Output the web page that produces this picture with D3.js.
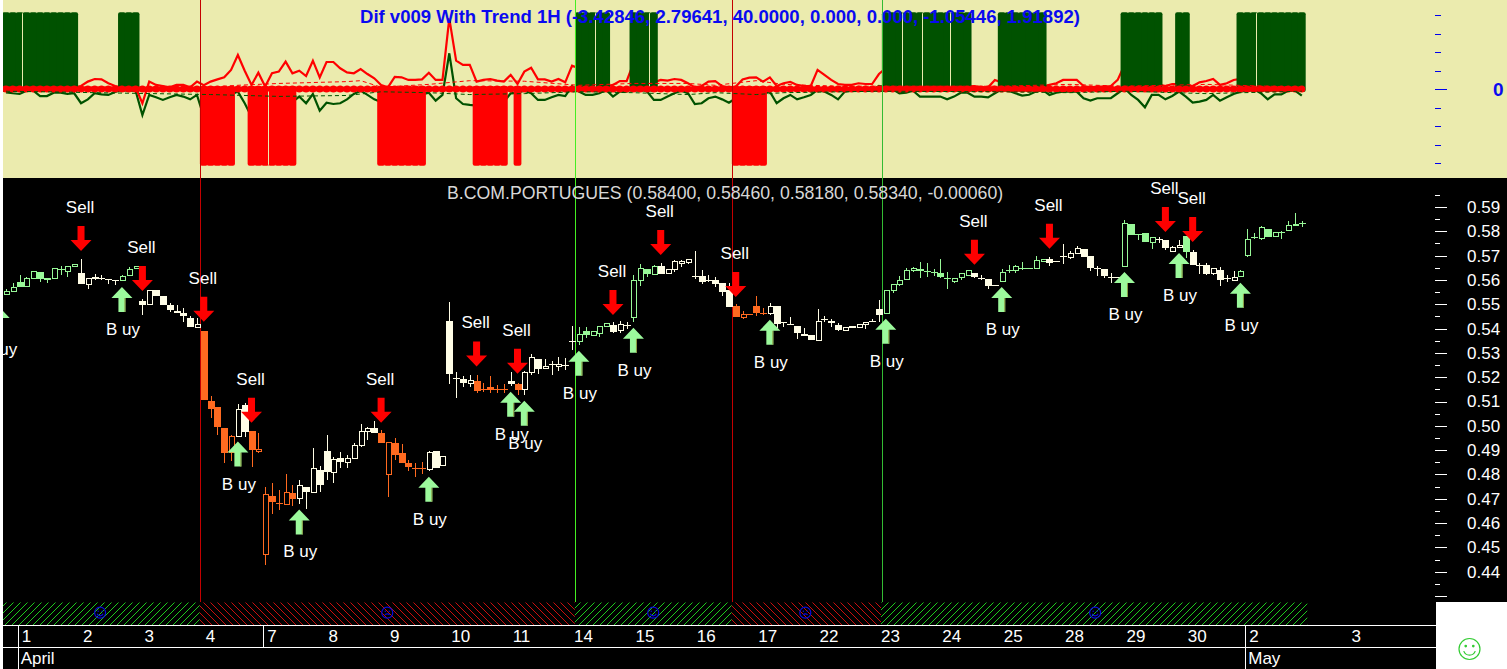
<!DOCTYPE html>
<html><head><meta charset="utf-8">
<style>html,body{margin:0;padding:0;background:#fff;overflow:hidden}svg{display:block}text{font-family:"Liberation Sans",Arial,sans-serif}</style>
<script src="https://cdn.jsdelivr.net/npm/d3@7"></script>
</head><body><svg id="c" width="1507" height="669"></svg>
<script>
const opens=[.5543,.5554,.5592,.5573,.5606,.5632,.5610,.5606,.5645,.5634,
.5656,.5628,.5583,.5611,.5606,.5603,.5599,.5597,.5621,.5648,
.5514,.5500,.5558,.5533,.5498,.5473,.5463,.5443,.5408,.5391,
.5102,.5079,.4992,.4894,.4960,.5087,.4980,.4897,.4474,.4713,
.4683,.4677,.4725,.4702,.4750,.4727,.4820,.4897,.4809,.4869,
.4852,.4868,.4920,.4980,.4992,.4972,.4802,.4930,.4890,.4845,
.4827,.4827,.4823,.4897,.4839,.5432,.5198,.5192,.5174,.5184,
.5151,.5160,.5153,.5150,.5183,.5173,.5150,.5220,.5275,.5238,
.5256,.5246,.5252,.5350,.5351,.5388,.5377,.5383,.5410,.5414,
.5394,.5415,.5447,.5599,.5644,.5622,.5659,.5628,.5645,.5670,
.5677,.5615,.5615,.5599,.5600,.5587,.5559,.5491,.5447,.5461,
.5493,.5466,.5463,.5493,.5425,.5420,.5410,.5377,.5374,.5353,
.5439,.5431,.5415,.5395,.5411,.5406,.5418,.5432,.5481,.5462,
.5560,.5581,.5604,.5638,.5645,.5638,.5633,.5628,.5606,.5596,
.5610,.5622,.5628,.5610,.5603,.5578,.5597,.5641,.5638,.5650,
.5650,.5648,.5681,.5685,.5678,.5698,.5693,.5710,.5726,.5699,
.5648,.5644,.5614,.5614,.5656,.5829,.5789,.5792,.5757,.5767,
.5763,.5721,.5733,.5781,.5715,.5662,.5661,.5626,.5641,.5606,
.5599,.5614,.5706,.5776,.5770,.5808,.5782,.5797,.5803,.5825,.5833];
const highs=[.5562,.5587,.5621,.5614,.5636,.5632,.5610,.5648,.5658,.5656,
.5665,.5685,.5606,.5625,.5621,.5603,.5599,.5621,.5652,.5656,
.5522,.5558,.5558,.5533,.5507,.5496,.5484,.5452,.5443,.5391,
.5121,.5079,.4992,.4964,.5091,.5094,.4980,.4972,.4750,.4765,
.4738,.4802,.4755,.4776,.4750,.4909,.4833,.4964,.4872,.4894,
.4879,.4930,.5009,.4995,.5021,.4981,.4934,.4951,.4927,.4860,
.4849,.4853,.4897,.4897,.4877,.5510,.5221,.5203,.5209,.5210,
.5176,.5206,.5169,.5172,.5221,.5178,.5226,.5296,.5275,.5275,
.5265,.5285,.5279,.5411,.5408,.5408,.5392,.5410,.5422,.5429,
.5431,.5428,.5621,.5665,.5644,.5662,.5669,.5645,.5682,.5682,
.5688,.5719,.5641,.5621,.5611,.5587,.5588,.5502,.5474,.5461,
.5532,.5485,.5505,.5493,.5425,.5447,.5410,.5402,.5374,.5481,
.5451,.5439,.5422,.5407,.5411,.5418,.5426,.5441,.5518,.5558,
.5583,.5617,.5648,.5655,.5674,.5671,.5644,.5685,.5633,.5607,
.5630,.5641,.5628,.5621,.5603,.5578,.5644,.5662,.5662,.5674,
.5650,.5699,.5688,.5696,.5678,.5747,.5719,.5740,.5726,.5699,
.5658,.5644,.5628,.5614,.5847,.5829,.5789,.5792,.5776,.5778,
.5763,.5740,.5764,.5781,.5723,.5671,.5669,.5648,.5652,.5620,
.5638,.5641,.5808,.5792,.5823,.5808,.5799,.5803,.5844,.5874,.5844];
const lows=[.5537,.5551,.5570,.5570,.5606,.5593,.5589,.5606,.5621,.5614,
.5656,.5585,.5564,.5600,.5600,.5584,.5581,.5597,.5621,.5648,
.5456,.5500,.5532,.5496,.5469,.5468,.5429,.5411,.5408,.5105,
.5033,.4964,.4849,.4857,.4960,.4955,.4832,.4890,.4427,.4639,
.4652,.4676,.4672,.4680,.4656,.4727,.4727,.4779,.4764,.4828,
.4825,.4868,.4913,.4943,.4977,.4936,.4706,.4860,.4854,.4815,
.4788,.4803,.4816,.4833,.4839,.5172,.5114,.5158,.5160,.5135,
.5141,.5137,.5135,.5137,.5162,.5128,.5128,.5210,.5214,.5238,
.5207,.5224,.5231,.5310,.5333,.5361,.5377,.5365,.5410,.5381,
.5380,.5400,.5429,.5576,.5611,.5622,.5632,.5628,.5632,.5655,
.5666,.5603,.5584,.5592,.5570,.5534,.5495,.5450,.5441,.5461,
.5452,.5456,.5456,.5404,.5408,.5414,.5359,.5371,.5359,.5353,
.5428,.5407,.5390,.5395,.5406,.5406,.5400,.5432,.5429,.5462,
.5548,.5576,.5604,.5634,.5610,.5611,.5617,.5607,.5564,.5589,
.5600,.5622,.5607,.5600,.5562,.5578,.5597,.5630,.5630,.5641,
.5650,.5648,.5681,.5658,.5678,.5667,.5685,.5710,.5699,.5638,
.5617,.5606,.5589,.5614,.5656,.5788,.5764,.5760,.5728,.5753,
.5723,.5716,.5733,.5689,.5661,.5625,.5622,.5620,.5576,.5593,
.5599,.5614,.5696,.5767,.5764,.5778,.5782,.5770,.5803,.5825,.5819];
const closes=[.5556,.5570,.5577,.5607,.5636,.5606,.5606,.5648,.5645,.5656,
.5665,.5585,.5606,.5606,.5606,.5603,.5599,.5615,.5647,.5656,
.5503,.5558,.5537,.5502,.5481,.5468,.5455,.5411,.5420,.5111,
.5075,.5001,.4894,.4960,.5069,.4980,.4906,.4905,.4720,.4691,
.4683,.4728,.4705,.4757,.4734,.4827,.4764,.4813,.4864,.4856,
.4868,.4921,.4979,.4991,.4977,.4936,.4934,.4886,.4854,.4833,
.4827,.4827,.4891,.4833,.4877,.5220,.5198,.5178,.5187,.5146,
.5151,.5153,.5153,.5150,.5173,.5153,.5221,.5281,.5240,.5247,
.5256,.5256,.5252,.5350,.5378,.5377,.5392,.5410,.5422,.5388,
.5417,.5415,.5599,.5648,.5626,.5656,.5632,.5645,.5677,.5677,
.5688,.5615,.5596,.5599,.5587,.5556,.5495,.5450,.5459,.5461,
.5470,.5466,.5491,.5425,.5425,.5420,.5387,.5371,.5359,.5433,
.5439,.5425,.5400,.5407,.5406,.5418,.5426,.5432,.5461,.5558,
.5583,.5599,.5641,.5648,.5640,.5638,.5633,.5617,.5606,.5607,
.5628,.5641,.5617,.5610,.5577,.5578,.5633,.5641,.5656,.5650,
.5650,.5681,.5688,.5673,.5678,.5698,.5710,.5730,.5699,.5655,
.5648,.5618,.5614,.5614,.5833,.5788,.5789,.5760,.5776,.5767,
.5733,.5736,.5743,.5721,.5667,.5662,.5630,.5648,.5606,.5606,
.5611,.5636,.5770,.5776,.5817,.5778,.5799,.5797,.5825,.5831,.5833];
const toneStarts=[0,11,17,20,29,34,36,43,55,62,69,74,75,76,84,89,92,96,107,112,129,142,146,153,164,169,173,174,181];
const toneNames=["g","w","g","w","o","w","o","w","o","w","o","w","o","w","g","w","g","w","o","w","g","w","g","w","g","w","g","w","g"];
const redLine=[.09,.13,.09,.05,.09,.09,.07,.09,.13,.09,.09,.16,.40,.54,.52,.31,.16,.09,.09,.09,
-.77,.40,.22,.16,.09,.22,.22,.09,.40,.20,.40,.52,.63,1.03,1.84,.99,.22,.88,.13,.85,
.94,1.48,.85,.99,.70,1.53,.63,1.46,1.46,1.12,.90,.85,1.08,.81,.58,.22,.09,.65,.63,.49,
.49,.52,.88,.49,.49,3.82,1.53,1.30,1.30,.40,.49,.54,.45,.40,.76,.27,.94,1.15,.52,.52,
.40,.54,.36,1.26,1.12,.27,.22,.16,.13,.22,.43,.43,1.39,.45,.40,.36,.49,.45,.54,.49,
.31,.09,.16,.40,.43,.16,.09,.13,.52,.61,.63,.40,.63,.16,.31,.38,.22,.16,.16,1.03,
.76,.49,.27,.22,.22,.31,.27,.27,.81,1.12,.30,.76,.20,.15,.25,.30,.25,.20,.15,.25,
.30,.15,.16,.09,.09,.49,.35,.20,.18,.20,.15,.15,.10,.22,.31,.49,.49,.49,.16,.09,
.13,.13,.16,.49,1.30,.25,.20,.15,.20,.25,.16,.27,.27,.22,.16,.36,.43,.54,.22,.31,
.49,.55,.60,.76,.31,.13,.16,.16,.13,.13,.09];
const greenLine=[-.18,-.23,-.27,-.09,-.09,-.38,-.38,-.20,-.20,-.27,-.23,-.77,-.56,-.23,-.29,-.32,-.16,-.05,-.05,-.09,
-1.41,-.32,-.45,-.59,-.45,-.32,-.41,-.56,-.32,-1.50,-.9,-.8,-.6,-.3,-.14,-.77,-1.50,-1.2,-2.58,-1.0,
-.9,-.5,-.7,-.41,-.77,-.27,-1.17,-.74,-.81,-.77,-.56,-.27,-.09,-.32,-.56,-.7,-.5,-.4,-.4,-.4,
-.4,-.3,-.20,-.63,-.32,1.93,-.50,-.81,-.86,-.9,-.85,-.85,-.8,-.7,-.23,-.2,-.09,-.23,-.59,-.59,
-.45,-.32,-.38,.16,-.14,-.32,-.32,-.23,-.05,-.41,-.14,-.14,.09,.16,-.14,-.59,-.59,-.41,-.23,-.09,
-.23,-.81,-.77,-.50,-.41,-.56,-.74,-.5,-.4,-.4,-.4,-.3,-.14,-.77,-.50,-.32,-.56,-.45,-.32,-.05,
-.14,-.32,-.56,-.14,-.09,-.09,-.09,-.09,.16,.09,-.02,-.23,-.20,-.09,-.41,-.41,-.41,-.41,-.56,-.41,
-.20,-.20,-.41,-.41,-.45,-.23,-.02,-.09,-.23,-.36,-.31,-.14,-.05,-.32,-.20,-.14,-.14,-.14,-.50,-.63,
-.50,-.50,-.50,-.23,.04,-.32,-.59,-.99,-.32,-.32,-.56,-.38,-.14,-.41,-.74,-.68,-.59,-.32,-.63,-.45,
-.27,-.14,-.09,-.02,-.23,-.56,-.29,-.29,-.09,-.09,-.36];
const redDashBars=[0,30,34,40,50,52,55,62,68,76,84,92,100,104,110,114,122,128,146,156,164,176,190];
const redDashVals=[.1,.1,.2,.3,.4,.45,.1,.25,.45,.42,.2,.3,.3,.2,.45,.25,.15,.15,.15,.25,.15,.25,.1];
const greenDashBars=[0,30,40,50,55,62,68,76,84,92,100,104,110,114,128,146,156,164,176,190];
const greenDashVals=[-.12,-.3,-.4,-.35,-.15,-.2,-.3,-.25,-.15,-.2,-.3,-.2,-.3,-.2,-.12,-.15,-.2,-.12,-.25,-.12];
const signalFrom=[0,17,29,36,55,69,75,84,92,107,129,146,164,172,181];
const signalTo=[10,19,33,42,61,73,75,88,95,111,141,152,169,173,190];
const signalDir=[1,1,-1,-1,-1,-1,-1,1,1,-1,1,1,1,1,1];
const slitBars=[2,38,86,94,131,134,138,183];
const regimeBars=[29,84,107,129];
const regimeColors=["#c40000","#44ee22","#c40000","#33bb33"];
const hatchFrom=[-.44,28.4,83.4,106.4,128.3];
const hatchTo=[28.4,83.4,106.4,128.3,190.8];
const hatchTone=["up","down","up","down","up"];
const faceBars=[13.8,55.9,94.9,117.2,159.7];
const faceMood=[1,-1,1,-1,1];
const sellBars=[11,20,29,36,55,69,75,89,96,107,142,153,170,174];
const sellTips=[.5719,.5555,.5428,.5013,.5013,.5244,.5214,.5456,.5703,.5530,.5662,.5728,.5797,.5756];
const buyBars=[-1,17,34,43,62,74,76,84,92,112,129,146,164,172,181];
const buyTips=[.5489,.5571,.4935,.4656,.4791,.5140,.5103,.5309,.5403,.5436,.5440,.5571,.5633,.5711,.5588];
const priceTicks=[.59,.58,.57,.56,.55,.54,.53,.52,.51,.50,.49,.48,.47,.46,.45,.44,.43];
const priceLabelled=[.59,.58,.57,.56,.55,.54,.53,.52,.51,.50,.49,.48,.47,.46,.45,.44];
const priceMinor=[.595,.585,.575,.565,.555,.545,.535,.525,.515,.505,.495,.485,.475,.465,.455,.445,.435];
const indMinor=[4,3,2,1,-1,-2,-3,-4];
const dayLabels=["1","2","3","4","7","8","9","10","11","14","15","16","17","22","23","24","25","28","29","30","2","3"];
const dayBars=[2,11,20,29,38,47,56,65,74,83,92,101,110,119,128,137,146,155,164,173,182,197];
const monthLabels=["April","May"];
const monthBars=[2,182];
const weekBar=38;
const indicatorTitle="Dif v009 With Trend 1H (-3.42846, 2.79641, 40.0000, 0.000, 0.000, -1.05446, 1.91892)";
const priceTitle="B.COM.PORTUGUES (0.58400, 0.58460, 0.58180, 0.58340, -0.00060)";

const svg=d3.select("#c");
const W=1507,H=669,L=3,R=1436;
const x=d3.scaleLinear().domain([0,190]).range([6,1301.8]);
const yP=d3.scaleLinear().domain([.59,.43]).range([207,596]);
const yT=d3.scaleLinear().domain([4,-4]).range([15,163]);
const bars=d3.range(opens.length);
const toneAt=i=>toneNames[d3.bisectRight(toneStarts,i)-1];
const toneColor={g:"#98f898",w:"#fffde6",o:"#ff6a20"};
const signalAt=i=>{for(let k=0;k<signalFrom.length;k++)if(i>=signalFrom[k]&&i<=signalTo[k])return signalDir[k];return 0;};

const defs=svg.append("defs");
const pat=(id,d,c)=>{const p=defs.append("pattern").attr("id",id).attr("patternUnits","userSpaceOnUse").attr("width",7).attr("height",7);
 p.append("path").attr("d",d).attr("stroke",c).attr("stroke-width",.85).attr("fill","none");};
pat("hup","M0,7L7,0","#22ee22");pat("hdn","M0,0L7,7","#ee1111");
defs.append("clipPath").attr("id","pl").append("rect").attr("x",L).attr("y",0).attr("width",W-L).attr("height",H);

// panels
svg.append("rect").attr("width",W).attr("height",H).attr("fill","#fff");
svg.append("rect").attr("x",L).attr("y",0).attr("width",W-L).attr("height",178).attr("fill","#ebebae");
svg.append("rect").attr("x",L).attr("y",178).attr("width",W-L).attr("height",424).attr("fill","#000");
svg.append("rect").attr("x",L).attr("y",602).attr("width",R-L).attr("height",67).attr("fill","#000");

const root=svg.append("g").attr("clip-path","url(#pl)");

// indicator lines
const lineT=d3.line().x((d,i)=>x(i)).y(d=>yT(d));
root.append("path").attr("d",lineT(greenLine)).attr("fill","none").attr("stroke","#005200").attr("stroke-width",2.2);
root.append("path").attr("d",lineT(redLine)).attr("fill","none").attr("stroke","#ff0000").attr("stroke-width",2.2);

// histogram
root.append("g").selectAll("rect").data(bars.filter(i=>signalAt(i)!==0)).join("rect")
 .attr("x",i=>x(i)-3.9).attr("width",7.8)
 .attr("y",i=>signalAt(i)>0?yT(4.15):yT(0)-3)
 .attr("height",i=>Math.abs(yT(4.15)-yT(0))+3)
 .attr("rx",2)
 .attr("fill",i=>signalAt(i)>0?"#005200":"#ff0000");
root.append("g").selectAll("rect").data(slitBars).join("rect")
 .attr("x",i=>Math.round(x(i)+2.4)).attr("width",1)
 .attr("y",i=>signalAt(i)>0?yT(4.15)+1:yT(0))
 .attr("height",Math.abs(yT(4.15)-yT(0))-1)
 .attr("fill","#ebebae");

// zero band
root.append("line").attr("x1",L).attr("x2",x(190)).attr("y1",yT(0)).attr("y2",yT(0)).attr("stroke","#ff0000").attr("stroke-width",5);
root.append("g").selectAll("circle").data(bars).join("circle")
 .attr("cx",i=>x(i)).attr("cy",yT(0)).attr("r",3.5).attr("fill","#ff0000");
const dl=d3.line().x(d=>x(d[0])).y(d=>yT(d[1]));
root.append("path").attr("d",dl(redDashBars.map((b,k)=>[b,redDashVals[k]]))).attr("fill","none").attr("stroke","#ff0000").attr("stroke-width",1).attr("stroke-dasharray","4 3");
root.append("path").attr("d",dl(greenDashBars.map((b,k)=>[b,greenDashVals[k]]))).attr("fill","none").attr("stroke","#005200").attr("stroke-width",1).attr("stroke-dasharray","4 3");

// regime verticals
root.append("g").selectAll("line").data(regimeBars).join("line")
 .attr("x1",b=>Math.round(x(b)-4.1)+.5).attr("x2",b=>Math.round(x(b)-4.1)+.5)
 .attr("y1",0).attr("y2",602).attr("stroke",(b,k)=>regimeColors[k]).attr("stroke-width",1);

svg.append("text").attr("x",360).attr("y",23).attr("font-size",18.55).attr("font-weight","bold").attr("fill","#0a0af0").text(indicatorTitle);

// candles
const cg=root.append("g");
const candle=cg.selectAll("g").data(bars).join("g").attr("shape-rendering","crispEdges");
candle.append("line").attr("x1",i=>Math.round(x(i))+.5).attr("x2",i=>Math.round(x(i))+.5)
 .attr("y1",i=>yP(highs[i])).attr("y2",i=>yP(lows[i])).attr("stroke",i=>toneColor[toneAt(i)]).attr("stroke-width",1);
candle.filter(i=>closes[i]>opens[i]).append("rect")
 .attr("x",i=>Math.round(x(i))-2).attr("width",5)
 .attr("y",i=>Math.round(yP(closes[i]))+.5)
 .attr("height",i=>Math.max(Math.round(yP(opens[i])-yP(closes[i])),1))
 .attr("fill","#000").attr("stroke",i=>toneColor[toneAt(i)]).attr("stroke-width",1);
candle.filter(i=>closes[i]<=opens[i]).append("rect")
 .attr("x",i=>Math.round(x(i))-3).attr("width",7)
 .attr("y",i=>Math.round(yP(opens[i])))
 .attr("height",i=>Math.max(Math.round(yP(closes[i])-yP(opens[i])),1)+(closes[i]<opens[i]?1:0))
 .attr("fill",i=>toneColor[toneAt(i)]);

// arrows
const arrow=dir=>{const p=d3.path();const s=dir; // s=+1 tip at origin, body upward (sell); s=-1 body downward (buy)
 p.moveTo(0,0);p.lineTo(10.5,-11*s);p.lineTo(3.5,-11*s);p.lineTo(3.5,-25*s);p.lineTo(-3.5,-25*s);p.lineTo(-3.5,-11*s);p.lineTo(-10.5,-11*s);p.closePath();return p.toString();};
const sells=sellBars.map((b,k)=>({b,t:sellTips[k]}));
const buys=buyBars.map((b,k)=>({b,t:buyTips[k]}));
const sg=root.append("g").selectAll("g").data(sells).join("g").attr("transform",d=>`translate(${x(d.b)},${yP(d.t)})`);
sg.append("path").attr("d",arrow(1)).attr("fill","#ff0000");
sg.append("text").attr("y",-38).attr("x",-1).attr("text-anchor","middle").attr("font-size",17).attr("fill","#fff").text("Sell");
const bg=root.append("g").selectAll("g").data(buys).join("g").attr("transform",d=>`translate(${x(d.b)},${yP(d.t)})`);
bg.append("path").attr("d",arrow(-1)).attr("fill","#9cf99c");
bg.append("rect").attr("x",2.5).attr("y",11).attr("width",1).attr("height",14).attr("fill","#8a9a40");
bg.append("text").attr("y",48).attr("x",1).attr("text-anchor","middle").attr("font-size",17).attr("fill","#fff").text("B uy");

svg.append("text").attr("x",447).attr("y",199).attr("font-size",17.7).attr("fill","#d8d8d8").text(priceTitle);

// price axes
const pA=svg.append("g").attr("transform","translate(1435,0)")
 .call(d3.axisRight(yP).tickValues(priceTicks).tickSize(12).tickPadding(20).tickFormat(v=>priceLabelled.includes(v)?d3.format(".2f")(v):""));
pA.select(".domain").remove();
pA.selectAll("line").attr("stroke","#fff").attr("stroke-width",1).attr("shape-rendering","crispEdges");
pA.selectAll("text").attr("fill","#fff").attr("font-size",17).attr("font-family","Liberation Sans");
const pM=svg.append("g").attr("transform","translate(1435,0)")
 .call(d3.axisRight(yP).tickValues(priceMinor).tickSize(5).tickFormat(""));
pM.select(".domain").remove();
pM.selectAll("line").attr("stroke","#fff").attr("shape-rendering","crispEdges");

// indicator axes
const iA=svg.append("g").attr("transform","translate(1435,0)")
 .call(d3.axisRight(yT).tickValues([0]).tickSize(12).tickPadding(46).tickFormat(d3.format("d")));
iA.select(".domain").remove();
iA.selectAll("line").attr("stroke","#0000ee").attr("stroke-width",1).attr("shape-rendering","crispEdges");
iA.selectAll("text").attr("fill","#0a0af0").attr("font-size",19).attr("font-weight","bold").attr("font-family","Liberation Sans");
const iM=svg.append("g").attr("transform","translate(1435,0)")
 .call(d3.axisRight(yT).tickValues(indMinor).tickSize(6).tickFormat(""));
iM.select(".domain").remove();
iM.selectAll("line").attr("stroke","#0000ee").attr("stroke-width",1).attr("shape-rendering","crispEdges");

// hatch band
svg.append("g").selectAll("rect").data(d3.range(hatchFrom.length)).join("rect")
 .attr("x",k=>x(hatchFrom[k])).attr("width",k=>x(hatchTo[k])-x(hatchFrom[k]))
 .attr("y",602.5).attr("height",22.5)
 .attr("fill",k=>hatchTone[k]==="up"?"url(#hup)":"url(#hdn)");
// faces
const face=(g,mood,c,r)=>{
 g.append("circle").attr("r",r).attr("fill","none").attr("stroke",c).attr("stroke-width",1.2);
 [-1,1].forEach(s=>g.append("circle").attr("cx",s*r*.36).attr("cy",-r*.28).attr("r",r*.13).attr("fill",c));
 const m=mood>0?1:-1;
 g.append("path").attr("d",m>0
  ?d3.arc()({innerRadius:r*.58,outerRadius:r*.58,startAngle:Math.PI/2+.35,endAngle:Math.PI*1.5-.35})
  :d3.arc()({innerRadius:r*.5,outerRadius:r*.5,startAngle:-Math.PI/2+.6,endAngle:Math.PI/2-.6}))
  .attr("transform",m>0?"":`translate(0,${r*.7})`).attr("fill","none").attr("stroke",c).attr("stroke-width",1.2);
};
faceBars.forEach((b,k)=>{face(svg.append("g").attr("transform",`translate(${x(b)},612.7)`),faceMood[k],"#0a0ae0",5.5);});

// footer
const foot=svg.append("g").attr("shape-rendering","crispEdges");
foot.append("line").attr("x1",L).attr("x2",R).attr("y1",625.5).attr("y2",625.5).attr("stroke","#fff");
foot.append("line").attr("x1",L).attr("x2",R).attr("y1",647.5).attr("y2",647.5).attr("stroke","#fff");
foot.selectAll(".mo").data(monthBars).join("line").attr("class","mo")
 .attr("x1",b=>Math.round(x(b)-2)+.5).attr("x2",b=>Math.round(x(b)-2)+.5).attr("y1",625).attr("y2",H).attr("stroke","#fff");
foot.append("line").attr("x1",Math.round(x(weekBar)-2)+.5).attr("x2",Math.round(x(weekBar)-2)+.5).attr("y1",625).attr("y2",647).attr("stroke","#fff");
svg.append("g").selectAll("text").data(dayLabels).join("text")
 .attr("x",(d,k)=>x(dayBars[k])+2).attr("y",642).attr("font-size",17).attr("fill","#fff").text(d=>d);
svg.append("g").selectAll("text").data(monthLabels).join("text")
 .attr("x",(d,k)=>x(monthBars[k])+1).attr("y",664).attr("font-size",17).attr("fill","#fff").text(d=>d);

svg.append("rect").attr("x",R).attr("y",602).attr("width",W-R).attr("height",H-602).attr("fill","#fff");
face(svg.append("g").attr("transform","translate(1469.5,649)"),1,"#33cc33",10.5);
</script></body></html>
